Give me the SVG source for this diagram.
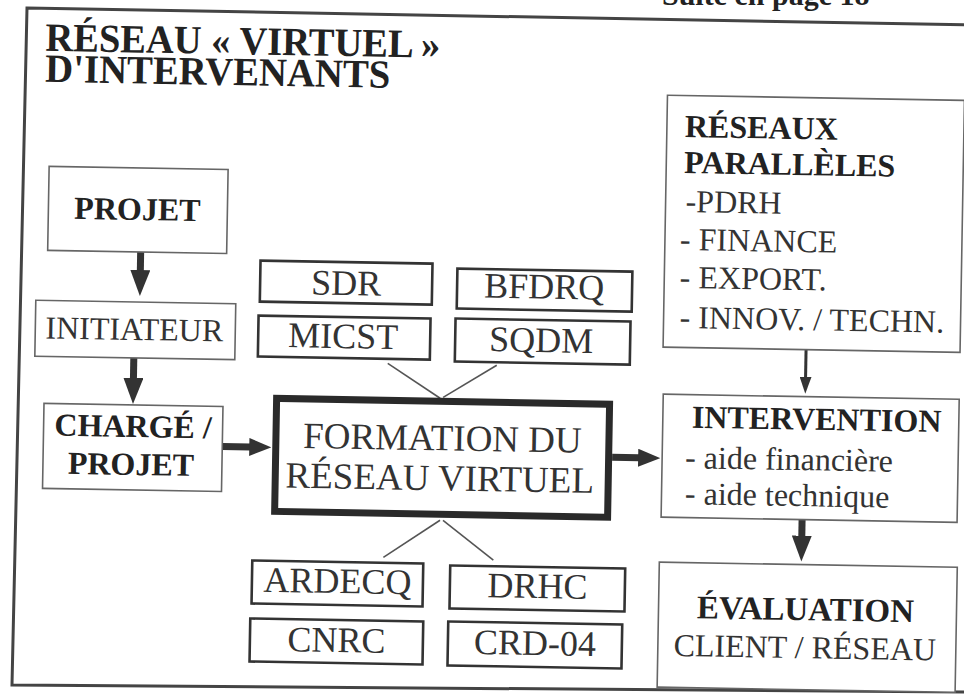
<svg xmlns="http://www.w3.org/2000/svg" width="964" height="695" viewBox="0 0 964 695">
<defs>
<style>
.t{font-family:"Liberation Serif","Times New Roman",serif;fill:#222}
.b{font-weight:bold}
.r{fill:#333}
.m{text-anchor:middle}
.box{fill:#fff;stroke:#666;stroke-width:1.6}
.sb{fill:#fff;stroke:#333;stroke-width:2.6}
.big{fill:#fff;stroke:#2a2a2a;stroke-width:7}
.thick{stroke:#333;stroke-width:7;fill:none}
.thin{stroke:#333;stroke-width:3;fill:none}
.ln{stroke:#555;stroke-width:1.6;fill:none}
</style>
<marker id="ah" markerWidth="26" markerHeight="20" refX="1" refY="10" orient="auto" markerUnits="userSpaceOnUse"><path d="M0,0 L26,10 L0,20 z" fill="#333"/></marker>
<marker id="ahs" markerWidth="22" markerHeight="18" refX="1" refY="9" orient="auto" markerUnits="userSpaceOnUse"><path d="M0,0 L22,9 L0,18 z" fill="#333"/></marker>
<marker id="aht" markerWidth="17" markerHeight="12" refX="1" refY="6" orient="auto" markerUnits="userSpaceOnUse"><path d="M0,0 L17,6 L0,12 z" fill="#333"/></marker>
</defs>
<rect width="964" height="695" fill="#fff"/>
<text class="t b" x="662" y="5" font-size="30">Suite en page 18</text>
<polygon points="27,8 978,25 972,692 12,685" fill="none" stroke="#444" stroke-width="3"/>
<g transform="rotate(1 482 350)">
<g id="title">
<text class="t b" x="40" y="58.5" font-size="40" textLength="395" lengthAdjust="spacingAndGlyphs">RÉSEAU « VIRTUEL »</text>
<text class="t b" x="40.5" y="89.5" font-size="40" textLength="345" lengthAdjust="spacingAndGlyphs">D'INTERVENANTS</text>
</g>
<g id="connectors">
<line class="thick" x1="139" y1="258" x2="139" y2="277" marker-end="url(#ah)"/>
<line class="thick" x1="134" y1="364" x2="134" y2="385" marker-end="url(#ah)"/>
<line class="thick" x1="224" y1="451" x2="252" y2="451" marker-end="url(#ahs)"/>
<line class="thick" x1="614" y1="455" x2="641" y2="455" marker-end="url(#ahs)"/>
<line class="thin" x1="806" y1="344" x2="806" y2="372" marker-end="url(#aht)"/>
<line class="thick" x1="805" y1="514" x2="805" y2="531" marker-end="url(#ah)"/>
<line class="ln" x1="388" y1="365" x2="441" y2="399"/>
<line class="ln" x1="497" y1="365" x2="444" y2="398"/>
<line class="ln" x1="443" y1="521" x2="387" y2="559"/>
<line class="ln" x1="446" y1="521" x2="497" y2="560"/>
</g>
<g id="projet"><rect class="box" x="46" y="174" width="179" height="84"/><text class="t b m" x="135" y="226" font-size="32">PROJET</text></g>
<g id="initiateur"><rect class="box" x="35" y="308" width="200" height="56"/><text class="t r m" x="134" y="346" font-size="32">INITIATEUR</text></g>
<g id="charge"><rect class="box" x="45" y="411" width="179" height="85"/><text class="t b m" x="134.5" y="443" font-size="32">CHARGÉ /</text><text class="t b m" x="133" y="481" font-size="32">PROJET</text></g>
<g id="formation"><rect class="big" x="277.5" y="402" width="333" height="113"/><text class="t r m" x="444" y="451" font-size="37">FORMATION DU</text><text class="t r m" x="442" y="491" font-size="37">RÉSEAU VIRTUEL</text></g>
<g id="sdr"><rect class="sb" x="259" y="264.5" width="172" height="41"/><text class="t r m" x="345" y="297.5" font-size="36">SDR</text></g>
<g id="bfdrq"><rect class="sb" x="456" y="269" width="175" height="40"/><text class="t r m" x="543" y="297.5" font-size="36">BFDRQ</text></g>
<g id="micst"><rect class="sb" x="258" y="319.5" width="172" height="41"/><text class="t r m" x="343" y="350.5" font-size="36">MICST</text></g>
<g id="sqdm"><rect class="sb" x="455" y="319" width="175" height="43"/><text class="t r m" x="541" y="351" font-size="36">SQDM</text></g>
<g id="ardecq"><rect class="sb" x="256" y="564.5" width="171" height="43"/><text class="t r m" x="341.5" y="595.5" font-size="36">ARDECQ</text></g>
<g id="drhc"><rect class="sb" x="454" y="566" width="175" height="43"/><text class="t r m" x="541.5" y="597" font-size="36">DRHC</text></g>
<g id="cnrc"><rect class="sb" x="255" y="622.5" width="173" height="43"/><text class="t r m" x="341.5" y="654.5" font-size="36">CNRC</text></g>
<g id="crd04"><rect class="sb" x="453" y="622" width="174" height="44"/><text class="t r m" x="540" y="654" font-size="36">CRD-04</text></g>
<g id="reseaux">
<rect class="box" x="663" y="92" width="297" height="252"/>
<text class="t b" x="681" y="133.5" font-size="32">RÉSEAUX</text>
<text class="t b" x="681" y="169.5" font-size="32">PARALLÈLES</text>
<text class="t r" x="683" y="208.5" font-size="32">-PDRH</text>
<text class="t r" x="678" y="246.5" font-size="32">- FINANCE</text>
<text class="t r" x="678.5" y="284.5" font-size="32">- EXPORT.</text>
<text class="t r" x="679" y="324.5" font-size="32">- INNOV. / TECHN.</text>
</g>
<g id="intervention">
<rect class="box" x="664" y="391" width="296" height="123"/>
<text class="t b" x="693" y="424" font-size="32">INTERVENTION</text>
<text class="t r" x="687" y="464.5" font-size="32">- aide financière</text>
<text class="t r" x="687.5" y="500.5" font-size="32">- aide technique</text>
</g>
<g id="evaluation">
<rect class="box" x="663" y="559" width="298" height="125"/>
<text class="t b m" x="810" y="614.5" font-size="33">ÉVALUATION</text>
<text class="t r m" x="810" y="652.5" font-size="32">CLIENT / RÉSEAU</text>
</g>
</g>
</svg>
